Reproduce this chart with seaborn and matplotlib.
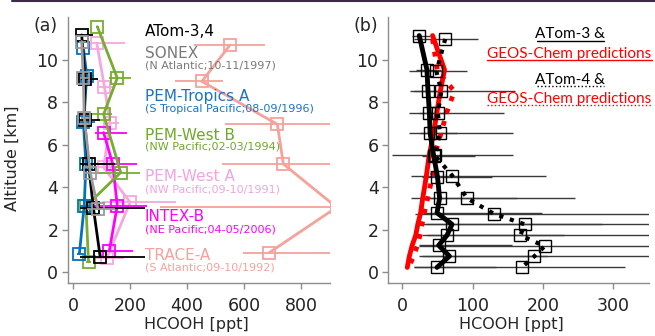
import numpy as np
import pandas as pd
import matplotlib
matplotlib.use("Agg")
import matplotlib.pyplot as plt
from matplotlib.lines import Line2D
import seaborn as sns

# ---------------- Panel (a) data ----------------
atom_ppt = [30, 42, 40, 54, 71, 95]
atom_alt = [11.17, 9.1, 7.14, 5.09, 3.03, 0.72]
atom_lo = [15, 15, 27, 29, 46, 70]
atom_hi = [40, 47, 55, 93, 182, 158]

sonex_ppt = [30, 36, 39, 60, 87]
sonex_alt = [10.86, 9.14, 7.27, 4.69, 2.98]
sonex_lo = [10, 12, 12, 20, 40]
sonex_hi = [15, 20, 20, 30, 60]

pta_ppt = [36, 48, 36, 45, 39, 22]
pta_alt = [10.54, 9.25, 7.05, 5.1, 3.13, 0.87]
pta_lo = [8, 15, 15, 15, 15, 10]
pta_hi = [10, 25, 40, 20, 20, 15]

pwb_ppt = [85, 155, 107, 167, 45, 54]
pwb_alt = [11.56, 9.14, 7.43, 4.69, 3.1, 0.48]
pwb_lo = [5, 29, 42, 79, 10, 10]
pwb_hi = [5, 47, 29, 68, 10, 10]

pwa_ppt = [83, 110, 130, 107, 200, 118]
pwa_alt = [10.78, 8.72, 7.0, 4.93, 3.29, 0.64]
pwa_lo = [26, 22, 20, 30, 100, 40]
pwa_hi = [99, 37, 30, 40, 160, 60]

intex_ppt = [107, 139, 155, 127]
intex_alt = [6.57, 5.09, 3.13, 1.0]
intex_lo = [30, 69, 100, 50]
intex_hi = [81, 84, 103, 84]

trace_ppt = [551, 452, 717, 738, 925, 689]
trace_alt = [10.7, 8.98, 6.96, 5.09, 3.05, 0.92]
trace_lo = [126, 94, 184, 216, 620, 91]
trace_hi = [123, 75, 250, 250, 300, 300]

# ---------------- Panel (b) data ----------------
alt3 = [11.14, 9.53, 8.52, 7.50, 6.54, 5.47, 4.49, 3.48, 2.79, 2.25, 1.73, 1.26, 0.75, 0.22]
obs3 = [24, 35, 36.5, 38.5, 39.5, 44.6, 50, 53, 49.3, 70.7, 63.5, 51.7, 67, 49.3]
obs3_lo_end = [14, 20, 17, 23, 25, 28, 28, 26, 30, 33, 35, 23, 28, 16]
obs3_hi_end = [40, 55, 71, 65, 78, 104, 128, 163, 199, 284, 230, 156, 206, 133]
gc3 = [43, 60, 54, 49, 44.6, 38, 34, 29, 26, 22, 19, 14, 10, 7]

alt4 = [10.98, 9.45, 8.52, 7.50, 6.54, 5.50, 4.54, 3.48, 2.75, 2.25, 1.73, 1.22, 0.75, 0.22]
obs4 = [61, 48.5, 55.5, 50.5, 53.5, 46, 71, 92, 130, 174, 168, 202.5, 188, 170]
obs4_lo_end = [16, 9, 11, 10, 9, -15, 13, 13, 18, 26, 28, 23, 23, 16]
obs4_hi_end = [108, 92, 161, 144, 158, 157, 205, 246, 380, 400, 380, 420, 380, 317]
gc4 = [43, 50, 74, 63, 55, 46, 43, 36, 31, 28, 25, 21, 16, 9]

# ---------------- style ----------------
sns.set_style("ticks", {"axes.edgecolor": "0.55"})
plt.rcParams["font.family"] = ["DejaVu Sans"]

W, H = 655, 336
fig = plt.figure(figsize=(W / 100, H / 100), dpi=100)


def fx(px):
    return px / W


def fy(py):
    return 1 - py / H


ax1 = fig.add_axes([fx(68), fy(282.7), (329.5 - 68) / W, (282.7 - 17.3) / H])
ax2 = fig.add_axes([fx(388.3), fy(282.7), (649 - 388.3) / W, (282.7 - 17.3) / H])


def profile(ax, ppt, alt, lo, hi, color, lw=2.0, ms=9, z=2):
    df = pd.DataFrame({"ppt": ppt, "alt": alt})
    ax.errorbar(df["ppt"], df["alt"], xerr=[lo, hi], fmt="none",
                ecolor=color, elinewidth=1.3, capsize=0, zorder=z)
    sns.lineplot(data=df, x="ppt", y="alt", sort=False, estimator=None, ax=ax,
                 color=color, lw=lw, marker="s", markersize=ms,
                 markerfacecolor="none", markeredgecolor=color,
                 markeredgewidth=1.3, zorder=z + 0.5)


c_trace = "#f7a19b"
c_intex = "#ff00ff"
c_pwa = "#f5a8dd"
c_pwb = "#77ac30"
c_pta = "#0072bd"
c_sonex = "#9a9a9a"
c_atom = "black"

profile(ax1, trace_ppt, trace_alt, trace_lo, trace_hi, c_trace, z=1)
profile(ax1, pwa_ppt, pwa_alt, pwa_lo, pwa_hi, c_pwa, z=2)
profile(ax1, intex_ppt, intex_alt, intex_lo, intex_hi, c_intex, z=3)
profile(ax1, pwb_ppt, pwb_alt, pwb_lo, pwb_hi, c_pwb, z=4)
profile(ax1, pta_ppt, pta_alt, pta_lo, pta_hi, c_pta, z=5)
profile(ax1, atom_ppt, atom_alt, atom_lo, atom_hi, c_atom, z=6)
profile(ax1, sonex_ppt, sonex_alt, sonex_lo, sonex_hi, c_sonex, z=7)

ax1.set_xlim(-18, 900)
ax1.set_ylim(-0.5, 12)
ax1.set_xticks([0, 200, 400, 600, 800])
ax1.set_yticks([0, 2, 4, 6, 8, 10])
ax1.set_xlabel("HCOOH [ppt]", fontsize=11.5)
ax1.set_ylabel("Altitude [km]", fontsize=11.5)
ax1.yaxis.set_label_coords((20 - 68) / 261.5, (282.7 - 158) / 265.4)

# ---------------- panel (b) ----------------
lo3 = [o - e for o, e in zip(obs3, obs3_lo_end)]
hi3 = [e - o for o, e in zip(obs3, obs3_hi_end)]
lo4 = [o - e for o, e in zip(obs4, obs4_lo_end)]
hi4 = [e - o for o, e in zip(obs4, obs4_hi_end)]

ax2.errorbar(obs4, alt4, xerr=[lo4, hi4], fmt="none", ecolor="#3a3a3a",
             elinewidth=1.0, capsize=0, zorder=1)
ax2.errorbar(obs3, alt3, xerr=[lo3, hi3], fmt="none", ecolor="#3a3a3a",
             elinewidth=1.0, capsize=0, zorder=1)

df3 = pd.DataFrame({"obs": obs3, "gc": gc3, "alt": alt3})
df4 = pd.DataFrame({"obs": obs4, "gc": gc4, "alt": alt4})

sns.lineplot(data=df3, x="gc", y="alt", sort=False, estimator=None, ax=ax2,
             color="red", lw=3.5, zorder=3)
sns.lineplot(data=df4, x="gc", y="alt", sort=False, estimator=None, ax=ax2,
             color="red", lw=3.5, ls=":", zorder=3)
sns.lineplot(data=df3, x="obs", y="alt", sort=False, estimator=None, ax=ax2,
             color="black", lw=3.5, marker="s", markersize=9,
             markerfacecolor="none", markeredgecolor="black",
             markeredgewidth=1.0, zorder=4)
sns.lineplot(data=df4, x="obs", y="alt", sort=False, estimator=None, ax=ax2,
             color="black", lw=3.0, ls=":", marker="s", markersize=9,
             markerfacecolor="none", markeredgecolor="black",
             markeredgewidth=1.0, zorder=4)

ax2.set_xlim(-20, 351)
ax2.set_ylim(-0.5, 12)
ax2.set_xticks([0, 100, 200, 300])
ax2.set_yticks([0, 2, 4, 6, 8, 10])
ax2.set_xlabel("HCOOH [ppt]", fontsize=11.5)
ax2.set_ylabel("")
ax2.xaxis.set_label_coords((511.7 - 388.3) / 260.7, -0.128)
ax1.xaxis.set_label_coords(0.49, -0.128)

for ax in (ax1, ax2):
    sns.despine(ax=ax)
    ax.tick_params(axis="both", labelsize=12.5, length=4, width=1,
                   color="0.55", labelcolor="#222222", pad=3)
    ax.tick_params(axis="x", pad=6.5)
    for s in ("left", "bottom"):
        ax.spines[s].set_linewidth(1.0)

# ---------------- texts panel (a) ----------------
labels_a = [
    ("ATom-3,4", None, "black", 31.7, None),
    ("SONEX", "(N Atlantic;10-11/1997)", "#7a7a7a", 53.3, 66.0),
    ("PEM-Tropics A", "(S Tropical Pacific;08-09/1996)", "#1a74c4", 96.7, 109.3),
    ("PEM-West B", "(NW Pacific;02-03/1994)", "#6fa82b", 135.0, 146.7),
    ("PEM-West A", "(NW Pacific;09-10/1991)", "#f3a4dc", 176.7, 189.3),
    ("INTEX-B", "(NE Pacific;04-05/2006)", "#ff00ff", 216.7, 229.3),
    ("TRACE-A", "(S Atlantic;09-10/1992)", "#f6a19b", 255.0, 267.3),
]
for main, sub, col, y1, y2 in labels_a:
    fig.text(fx(145), fy(y1), main, color=col, fontsize=11, va="center", ha="left")
    if sub:
        fig.text(fx(145), fy(y2), sub, color=col, fontsize=8, va="center", ha="left")

fig.text(fx(46), fy(26), "(a)", fontsize=12.5, ha="center", va="center")
fig.text(fx(366), fy(26), "(b)", fontsize=12.5, ha="center", va="center")

# ---------------- texts panel (b) ----------------
tb = [
    ("ATom-3 &", "black", 38.5, 536.7, 604, 40.7, "-"),
    ("GEOS-Chem predictions", "red", 58.3, 487.3, 651.7, 60.2, "-"),
    ("ATom-4 &", "black", 84.0, 536.7, 604, 85.5, ":"),
    ("GEOS-Chem predictions", "red", 102.7, 487.3, 651.7, 104.8, ":"),
]
for t, col, yb, x0, x1, yu, ls in tb:
    fig.text(fx((x0 + x1) / 2), fy(yb), t, color=col, fontsize=11,
             family=["Lato", "DejaVu Sans"], ha="center", va="baseline")
    fig.add_artist(Line2D([fx(x0), fx(x1)], [fy(yu), fy(yu)], color=col,
                          lw=1.0, ls=ls, transform=fig.transFigure))

# dark top border line
fig.add_artist(Line2D([fx(12), fx(655)], [fy(0.8), fy(0.8)], color="#3d2b45",
                      lw=1.5, transform=fig.transFigure))

fig.savefig("out.png", dpi=100)
